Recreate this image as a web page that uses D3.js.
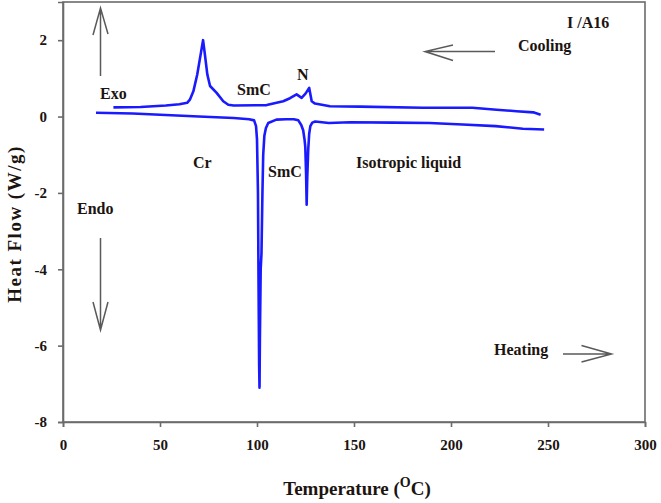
<!DOCTYPE html>
<html>
<head>
<meta charset="utf-8">
<script src="https://cdnjs.cloudflare.com/ajax/libs/d3/7.8.5/d3.min.js"></script>
<style>
  body { margin: 0; background: #fff; }
  svg text { font-family: "Liberation Serif", "Times New Roman", serif; font-weight: bold; fill: #1c1410; }
</style>
</head>
<body>
<svg width="661" height="503"></svg>
<script>
// heating run (lower curve)
var heatT  = [17, 36, 53, 70, 88, 96, 98.5, 99.5, 100, 100.5, 100.8, 101.1, 101.3, 101.5, 101.9, 102.3, 102.8, 103.2, 103.8, 104.6, 105.8, 110, 115, 119, 121.3, 122.8, 123.8, 124.5, 124.9, 125.3, 125.6, 125.9, 126.4, 126.9, 127.5, 128.5, 130, 137, 148, 170, 189, 206, 223, 237, 248];
var heatHF = [0.1, 0.08, 0.04, 0.0, -0.04, -0.07, -0.1, -0.25, -0.6, -2.0, -4.4, -6.5, -7.1, -5.8, -4.0, -3.6, -2.0, -1.0, -0.5, -0.3, -0.17, -0.08, -0.07, -0.07, -0.1, -0.22, -0.36, -0.6, -0.8, -1.5, -2.31, -1.6, -0.87, -0.45, -0.25, -0.16, -0.13, -0.17, -0.15, -0.16, -0.17, -0.21, -0.25, -0.32, -0.34];

// cooling run (upper curve)
var coolT  = [26, 40, 53, 60, 64, 65.5, 67.2, 69.2, 71.2, 72.2, 73.2, 74.4, 75.8, 79.2, 82.6, 85.2, 88, 105, 113.5, 117, 120.4, 123, 125, 126.9, 128.2, 129.9, 137.6, 153, 185.6, 211, 223.5, 233.8, 242.4, 246.2];
var coolHF = [0.24, 0.25, 0.29, 0.32, 0.36, 0.45, 0.66, 1.1, 1.7, 2.0, 1.6, 1.1, 0.8, 0.62, 0.4, 0.31, 0.29, 0.3, 0.4, 0.48, 0.58, 0.49, 0.6, 0.75, 0.4, 0.34, 0.27, 0.26, 0.23, 0.23, 0.18, 0.14, 0.11, 0.05];

var xTicks = [0, 50, 100, 150, 200, 250, 300];
var yTicks = [-8, -6, -4, -2, 0, 2];

var svg = d3.select("svg");
var margin = {left: 63, right: 16, top: 2, bottom: 81};
var width = 661 - margin.left - margin.right;
var height = 503 - margin.top - margin.bottom;

var x = d3.scaleLinear().domain([0, 300]).range([margin.left, margin.left + width]);
var y = d3.scaleLinear().domain([-8, 3]).range([margin.top + height, margin.top]);

var axisColor = "#6b6b6b";
var plain = function(d){ return String(d); }; // keep the hyphen minus like the original

// frame
svg.append("rect")
    .attr("x", x(0)).attr("y", y(3))
    .attr("width", x(300) - x(0)).attr("height", y(-8) - y(3))
    .attr("fill", "none").attr("stroke", axisColor).attr("stroke-width", 1.6);

var gx = svg.append("g")
    .attr("transform", "translate(0," + y(-8) + ")")
    .call(d3.axisBottom(x).tickValues(xTicks).tickFormat(plain).tickSize(5).tickPadding(12));
var gy = svg.append("g")
    .attr("transform", "translate(" + x(0) + ",0)")
    .call(d3.axisLeft(y).tickValues(yTicks).tickFormat(plain).tickSize(5).tickPadding(11));

[gx, gy].forEach(function(g){
    g.select(".domain").attr("stroke", axisColor).attr("stroke-width", 1.6);
    g.selectAll(".tick line").attr("stroke", axisColor).attr("stroke-width", 1.6);
    g.selectAll(".tick text").attr("font-size", 15)
        .style("font-family", "'Liberation Serif', serif").style("font-weight", "bold").attr("fill", "#1c1410");
});

// curves
var line = d3.line().x(function(d){ return x(d[0]); }).y(function(d){ return y(d[1]); });
var heating = heatT.map(function(t, i){ return [t, heatHF[i]]; });
var cooling = coolT.map(function(t, i){ return [t, coolHF[i]]; });

svg.append("path").datum(cooling).attr("d", line)
    .attr("fill", "none").attr("stroke", "#1a1aff").attr("stroke-width", 2.6).attr("stroke-linejoin", "round");
svg.append("path").datum(heating).attr("d", line)
    .attr("fill", "none").attr("stroke", "#1a1aff").attr("stroke-width", 2.6).attr("stroke-linejoin", "round");

// arrows
var arrowColor = "#5a5a5a";
function arrow(x1, y1, x2, y2, a1x, a1y, a2x, a2y){
    svg.append("path")
        .attr("d", "M" + x1 + "," + y1 + "L" + x2 + "," + y2 +
                   "M" + a1x + "," + a1y + "L" + x2 + "," + y2 + "L" + a2x + "," + a2y)
        .attr("fill", "none").attr("stroke", arrowColor).attr("stroke-width", 1.5);
}
arrow(100.5, 76, 100.5, 8, 93, 35, 108, 34);     // exo, up
arrow(100.5, 238, 100.5, 330, 93, 302, 108, 302); // endo, down
arrow(495, 51.5, 425, 51.5, 453, 45, 453, 60.5);  // cooling, left
arrow(563, 354, 611.5, 354, 581.5, 345.5, 581.5, 362); // heating, right

// annotations
var notes = [
    {t: "Exo", x: 100, y: 99},
    {t: "Endo", x: 77, y: 214},
    {t: "Cr", x: 193, y: 168},
    {t: "SmC", x: 237, y: 95},
    {t: "N", x: 297, y: 80},
    {t: "SmC", x: 268, y: 177},
    {t: "Isotropic liquid", x: 356, y: 168},
    {t: "I /A16", x: 567, y: 28},
    {t: "Cooling", x: 518, y: 51},
    {t: "Heating", x: 494, y: 355}
];
svg.selectAll(".note").data(notes).enter().append("text")
    .attr("class", "note")
    .attr("x", function(d){ return d.x; })
    .attr("y", function(d){ return d.y; })
    .attr("font-size", 16)
    .text(function(d){ return d.t; });

// axis titles
var xt = svg.append("text")
    .attr("x", (x(0) + x(300)) / 2 + 3).attr("y", 495)
    .attr("text-anchor", "middle").attr("font-size", 19);
xt.append("tspan").text("Temperature (");
xt.append("tspan").attr("font-size", 14).attr("dy", -8).text("O");
xt.append("tspan").attr("dy", 8).text("C)");

svg.append("text")
    .attr("transform", "translate(21,224) rotate(-90)")
    .attr("text-anchor", "middle").attr("font-size", 19)
    .attr("letter-spacing", 1.5)
    .text("Heat Flow (W/g)");
</script>
</body>
</html>
